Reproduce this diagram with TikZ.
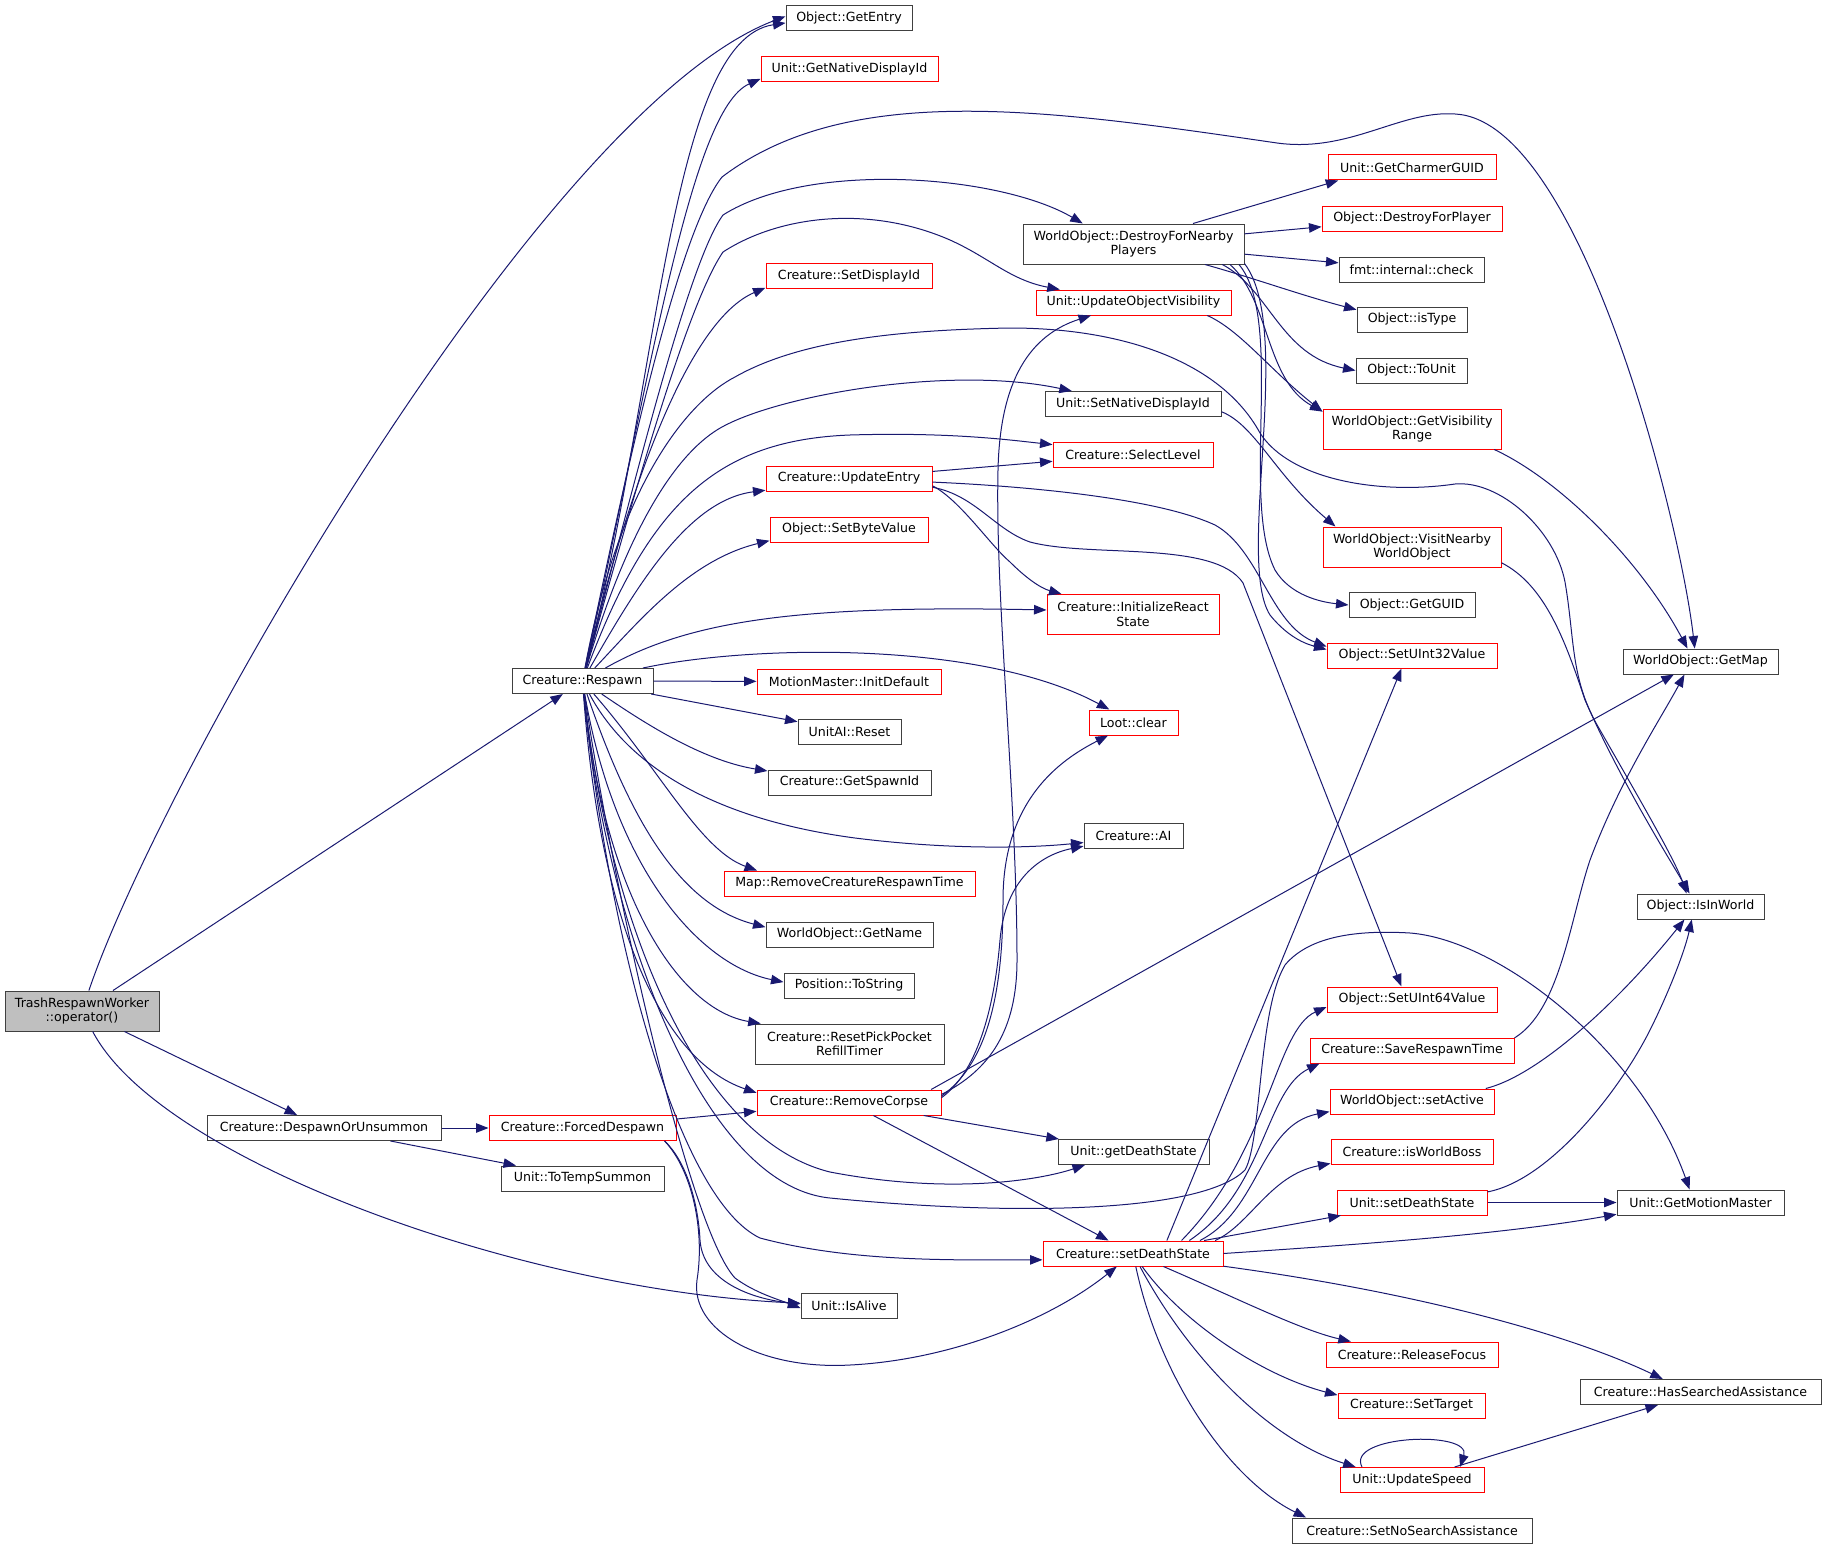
\documentclass[tikz,border=0pt]{standalone}
\usepackage{fontspec}
\setmainfont{DejaVu Sans}
\usetikzlibrary{arrows.meta}
\definecolor{edgeblue}{HTML}{191970}
\definecolor{boxgray}{HTML}{404040}
\definecolor{trwgray}{HTML}{BFBFBF}
\definecolor{boxred}{HTML}{FF0000}
\tikzset{
  box/.style={draw=boxgray, line width=1pt, inner sep=0pt, align=center, fill=white,
    font=\fontsize{12.6pt}{14.5pt}\selectfont, minimum height=25pt},
  rbox/.style={box, draw=boxred},
  edge/.style={draw=edgeblue, line width=1pt, -{Triangle[length=12.5pt,width=9.5pt]}},
}
\begin{document}
\begin{tikzpicture}[x=1pt,y=-1pt]
\useasboundingbox (0,0) rectangle (1827,1549);
% ---- nodes ----
\node[box, fill=trwgray, minimum width=154pt, minimum height=40pt] (trw) at (82,1011) {TrashRespawnWorker\\::operator()};
\node[box, minimum width=141pt] (resp) at (582.5,681) {Creature::Respawn};
\node[box, minimum width=234pt] (dou) at (324,1128) {Creature::DespawnOrUnsummon};
\node[rbox, minimum width=187pt] (fd) at (582.5,1128) {Creature::ForcedDespawn};
\node[box, minimum width=163pt] (tts) at (582.5,1178.5) {Unit::ToTempSummon};
\node[box, minimum width=96pt] (alive) at (849,1305.5) {Unit::IsAlive};
\node[box, minimum width=126pt] (gentry) at (849,18.5) {Object::GetEntry};
\node[rbox, minimum width=177pt] (gnd) at (849.5,69.5) {Unit::GetNativeDisplayId};
\node[rbox, minimum width=166pt] (sdi) at (849,276) {Creature::SetDisplayId};
\node[rbox, minimum width=166pt] (ue) at (849,478.5) {Creature::UpdateEntry};
\node[rbox, minimum width=158pt] (sbv) at (849,529.5) {Object::SetByteValue};
\node[rbox, minimum width=184pt] (mmid) at (849,681.5) {MotionMaster::InitDefault};
\node[box, minimum width=103pt] (uair) at (849.5,731.5) {UnitAI::Reset};
\node[box, minimum width=163pt] (gsi) at (849.5,782.5) {Creature::GetSpawnId};
\node[rbox, minimum width=251pt] (mrcrt) at (849.5,883.5) {Map::RemoveCreatureRespawnTime};
\node[box, minimum width=167pt] (gname) at (849.5,934.5) {WorldObject::GetName};
\node[box, minimum width=130pt] (pts) at (849,985.5) {Position::ToString};
\node[box, minimum width=189pt, minimum height=40pt] (rppr) at (849.5,1044) {Creature::ResetPickPocket\\RefillTimer};
\node[rbox, minimum width=184pt] (rc) at (849,1102.5) {Creature::RemoveCorpse};
\node[box, minimum width=221pt, minimum height=40pt] (dfnp) at (1133.5,244) {WorldObject::DestroyForNearby\\Players};
\node[rbox, minimum width=195pt] (uov) at (1133.5,302.5) {Unit::UpdateObjectVisibility};
\node[box, minimum width=176pt] (snd) at (1133,404) {Unit::SetNativeDisplayId};
\node[rbox, minimum width=160pt] (sl) at (1133,454.5) {Creature::SelectLevel};
\node[rbox, minimum width=172pt, minimum height=40pt] (irs) at (1133,614.5) {Creature::InitializeReact\\State};
\node[rbox, minimum width=89pt] (loot) at (1133.5,722.5) {Loot::clear};
\node[box, minimum width=99pt] (ai) at (1133.5,835.5) {Creature::AI};
\node[box, minimum width=151pt] (gds) at (1133.5,1152) {Unit::getDeathState};
\node[rbox, minimum width=180pt] (sds) at (1133,1253.5) {Creature::setDeathState};
\node[rbox, minimum width=168pt] (gcg) at (1412,167.5) {Unit::GetCharmerGUID};
\node[rbox, minimum width=180pt] (dfp) at (1412,218.5) {Object::DestroyForPlayer};
\node[box, minimum width=145pt] (fic) at (1411.5,269.5) {fmt::internal::check};
\node[box, minimum width=110pt] (ist) at (1412,319.5) {Object::isType};
\node[box, minimum width=111pt] (tou) at (1411.5,370.5) {Object::ToUnit};
\node[rbox, minimum width=178pt, minimum height=40pt] (gvr) at (1412,429) {WorldObject::GetVisibility\\Range};
\node[rbox, minimum width=178pt, minimum height=40pt] (vnwo) at (1412,547) {WorldObject::VisitNearby\\WorldObject};
\node[box, minimum width=126pt] (gguid) at (1412,605) {Object::GetGUID};
\node[rbox, minimum width=170pt] (su32) at (1412,655.5) {Object::SetUInt32Value};
\node[rbox, minimum width=170pt] (su64) at (1412,999.5) {Object::SetUInt64Value};
\node[rbox, minimum width=204pt] (srt) at (1412,1050.5) {Creature::SaveRespawnTime};
\node[rbox, minimum width=164pt] (sact) at (1412,1101.5) {WorldObject::setActive};
\node[rbox, minimum width=162pt] (iwb) at (1412,1152) {Creature::isWorldBoss};
\node[rbox, minimum width=150pt] (usds) at (1412,1202.5) {Unit::setDeathState};
\node[rbox, minimum width=172pt] (rf) at (1412,1354.5) {Creature::ReleaseFocus};
\node[rbox, minimum width=147pt] (st) at (1411.5,1405.5) {Creature::SetTarget};
\node[rbox, minimum width=144pt] (us) at (1412,1480) {Unit::UpdateSpeed};
\node[box, minimum width=240pt] (snsa) at (1412,1530.5) {Creature::SetNoSearchAssistance};
\node[box, minimum width=155pt] (gmap) at (1700.5,661.5) {WorldObject::GetMap};
\node[box, minimum width=127pt] (iiw) at (1700.5,906.5) {Object::IsInWorld};
\node[box, minimum width=167pt] (gmm) at (1700.5,1202.5) {Unit::GetMotionMaster};
\node[box, minimum width=241pt] (hsa) at (1700.5,1392) {Creature::HasSearchedAssistance};
% ---- edges from TrashRespawnWorker ----
\draw[edge] (trw) .. controls (160,780) and (540,110) .. (gentry.178);
\draw[edge] (trw) -- (resp);
\draw[edge] (trw) -- (dou);
\draw[edge] (trw) .. controls (160,1160) and (520,1290) .. (alive);
% ---- edges from Creature::Respawn ----
\draw[edge] (resp) .. controls (660,380) and (670,40) .. (gentry.184);
\draw[edge] (resp) .. controls (650,380) and (690,110) .. (gnd.186);
\draw[edge] (resp) .. controls (630,450) and (680,230) .. (722,177) .. controls (850,80) and (1050,110) .. (1277,143) .. controls (1350,153) and (1400,110) .. (1455,114) .. controls (1580,120) and (1680,520) .. (gmap.114);
\draw[edge] (resp) .. controls (640,460) and (690,260) .. (723,215) .. controls (810,160) and (1000,175) .. (dfnp.158);
\draw[edge] (resp) .. controls (640,470) and (690,300) .. (723,252) .. controls (780,215) and (870,205) .. (950,240) .. controls (990,258) and (1010,280) .. (uov.170);
\draw[edge] (resp) .. controls (630,480) and (690,320) .. (sdi.188);
\draw[edge] (resp) .. controls (620,480) and (690,400) .. (735,377) .. controls (800,340) and (900,330) .. (1010,328) .. controls (1120,328) and (1220,360) .. (1260,433) .. controls (1290,480) and (1380,495) .. (1455,484) .. controls (1500,480) and (1555,530) .. (1565,582) .. controls (1575,640) and (1570,680) .. (1600,730) .. controls (1640,800) and (1675,860) .. (iiw.137);
\draw[edge] (resp) .. controls (630,520) and (680,450) .. (722,427) .. controls (780,395) and (950,365) .. (snd.168);
\draw[edge] (resp) .. controls (650,500) and (720,440) .. (850,435) .. controls (950,432) and (1010,440) .. (sl.173);
\draw[edge] (resp) .. controls (640,580) and (690,500) .. (ue.188);
\draw[edge] (resp) .. controls (640,620) and (690,560) .. (sbv.188);
\draw[edge] (resp) .. controls (690,620) and (800,605) .. (irs.177);
\draw[edge] (resp) .. controls (750,645) and (980,640) .. (loot);
\draw[edge] (resp) -- (mmid);
\draw[edge] (resp) -- (uair);
\draw[edge] (resp) .. controls (640,720) and (700,760) .. (gsi.172);
\draw[edge] (resp) .. controls (630,770) and (720,820) .. (855,838) .. controls (950,850) and (1030,848) .. (ai.188);
\draw[edge] (resp) .. controls (660,770) and (700,850) .. (mrcrt.172);
\draw[edge] (resp) .. controls (630,820) and (680,905) .. (gname.175);
\draw[edge] (resp) .. controls (615,870) and (700,965) .. (pts.177);
\draw[edge] (resp) .. controls (605,900) and (680,1010) .. (rppr.167);
\draw[edge] (resp) .. controls (600,920) and (660,1060) .. (rc.174);
\draw[edge] (resp) .. controls (610,930) and (700,1140) .. (830,1172) .. controls (950,1195) and (1040,1180) .. (gds.195);
\draw[edge] (resp) .. controls (605,920) and (700,1185) .. (830,1198) .. controls (1000,1215) and (1200,1215) .. (1245,1170) .. controls (1262,1140) and (1258,1010) .. (1285,965) .. controls (1310,935) and (1360,930) .. (1410,933) .. controls (1500,940) and (1640,1050) .. (gmm.130);
\draw[edge] (resp) .. controls (610,950) and (680,1200) .. (760,1238) .. controls (850,1262) and (950,1260) .. (sds.184);
\draw[edge] (resp) .. controls (615,900) and (690,1230) .. (735,1278) .. controls (755,1293) and (780,1300) .. (alive.183);
% ---- Creature::UpdateEntry ----
\draw[edge] (ue) -- (sl);
\draw[edge] (ue) .. controls (1000,485) and (1150,495) .. (1215,525) .. controls (1260,550) and (1270,625) .. (su32.174);
\draw[edge] (ue.-5) .. controls (960,500) and (990,545) .. (1010,562) .. controls (1025,577) and (1040,588) .. (irs.164);
\draw[edge] (ue.-6) .. controls (975,495) and (995,530) .. (1030,542) .. controls (1090,558) and (1215,540) .. (1243,583) -- (su64.129);
% ---- WorldObject::DestroyForNearbyPlayers ----
\draw[edge] (dfnp.19) -- (gcg.190);
\draw[edge] (dfnp) -- (dfp);
\draw[edge] (dfnp) -- (fic);
\draw[edge] (dfnp.-16) .. controls (1260,280) and (1300,295) .. (ist.170);
\draw[edge] (dfnp.-13) .. controls (1270,290) and (1280,355) .. (tou.west);
\draw[edge] (dfnp.-12) .. controls (1270,300) and (1265,380) .. (gvr.169);
\draw[edge] (dfnp.-11) .. controls (1285,320) and (1240,500) .. (1275,570) .. controls (1290,595) and (1320,602) .. (gguid.west);
\draw[edge] (dfnp.-10) .. controls (1295,330) and (1235,560) .. (1270,615) .. controls (1290,640) and (1310,645) .. (su32.176);
% ---- others upper right ----
\draw[edge] (uov.-10) .. controls (1240,330) and (1270,370) .. (gvr.169);
\draw[edge] (snd.-5) .. controls (1255,425) and (1275,475) .. (vnwo.165);
\draw[edge] (vnwo.-10) .. controls (1545,585) and (1565,640) .. (1585,700) .. controls (1620,780) and (1670,860) .. (iiw.130);
\draw[edge] (gvr.-14) .. controls (1560,480) and (1640,560) .. (gmap.135);
% ---- Creature::RemoveCorpse ----
\draw[edge] (rc.9) -- (gmap.206);
\draw[edge] (rc) -- (gds);
\draw[edge] (rc) -- (sds);
\draw[edge] (rc.4) .. controls (985,1065) and (1003,1000) .. (1003,900) .. controls (1003,800) and (1060,760) .. (loot);
\draw[edge] (rc.3) .. controls (980,1070) and (995,1000) .. (1000,940) .. controls (1005,880) and (1040,855) .. (ai.192);
\draw[edge] (rc.5) .. controls (990,1070) and (1017,1030) .. (1017,960) .. controls (1017,800) and (995,600) .. (998,470) .. controls (1000,380) and (1030,335) .. (uov.197);
% ---- Despawn / ForcedDespawn ----
\draw[edge] (dou) -- (fd);
\draw[edge] (dou) -- (tts);
\draw[edge] (fd) -- (rc);
\draw[edge] (fd.-9) .. controls (685,1160) and (698,1200) .. (700,1240) .. controls (703,1285) and (760,1300) .. (alive.178);
\draw[edge] (fd.-9) .. controls (692,1170) and (705,1230) .. (697,1280) .. controls (690,1330) and (760,1370) .. (850,1365) .. controls (950,1360) and (1050,1320) .. (sds);
% ---- Creature::setDeathState ----
\draw[edge] (sds.21) -- (su32.231);
\draw[edge] (sds.15) .. controls (1270,1150) and (1275,1030) .. (su64.185);
\draw[edge] (sds.13) .. controls (1265,1190) and (1265,1090) .. (srt.188);
\draw[edge] (sds.11) .. controls (1260,1210) and (1260,1125) .. (sact.187);
\draw[edge] (sds.9) .. controls (1250,1225) and (1270,1175) .. (iwb.188);
\draw[edge] (sds) -- (usds);
\draw[edge] (sds.east) .. controls (1350,1245) and (1500,1235) .. (gmm.188);
\draw[edge] (sds.-8) .. controls (1400,1290) and (1560,1330) .. (hsa.161);
\draw[edge] (sds) .. controls (1230,1295) and (1300,1330) .. (rf.168);
\draw[edge] (sds) .. controls (1180,1320) and (1260,1375) .. (st.172);
\draw[edge] (sds) .. controls (1190,1360) and (1270,1440) .. (us.167);
\draw[edge] (sds) .. controls (1160,1380) and (1230,1480) .. (snsa.173);
% ---- lower right ----
\draw[edge] (srt.7) .. controls (1560,1010) and (1570,920) .. (1590,860) .. controls (1620,780) and (1660,720) .. (gmap.219);
\draw[edge] (sact.10) .. controls (1540,1075) and (1620,1000) .. (iiw.219);
\draw[edge] (usds.8) .. controls (1550,1180) and (1620,1090) .. (1650,1030) .. controls (1670,990) and (1685,950) .. (iiw.236);
\draw[edge] (usds) -- (gmm);
\draw[edge] ([xshift=-50pt]us.north) .. controls (1345,1435) and (1472,1430) .. ([xshift=48pt]us.north);
\draw[edge] (us) -- (hsa);
\end{tikzpicture}
\end{document}
